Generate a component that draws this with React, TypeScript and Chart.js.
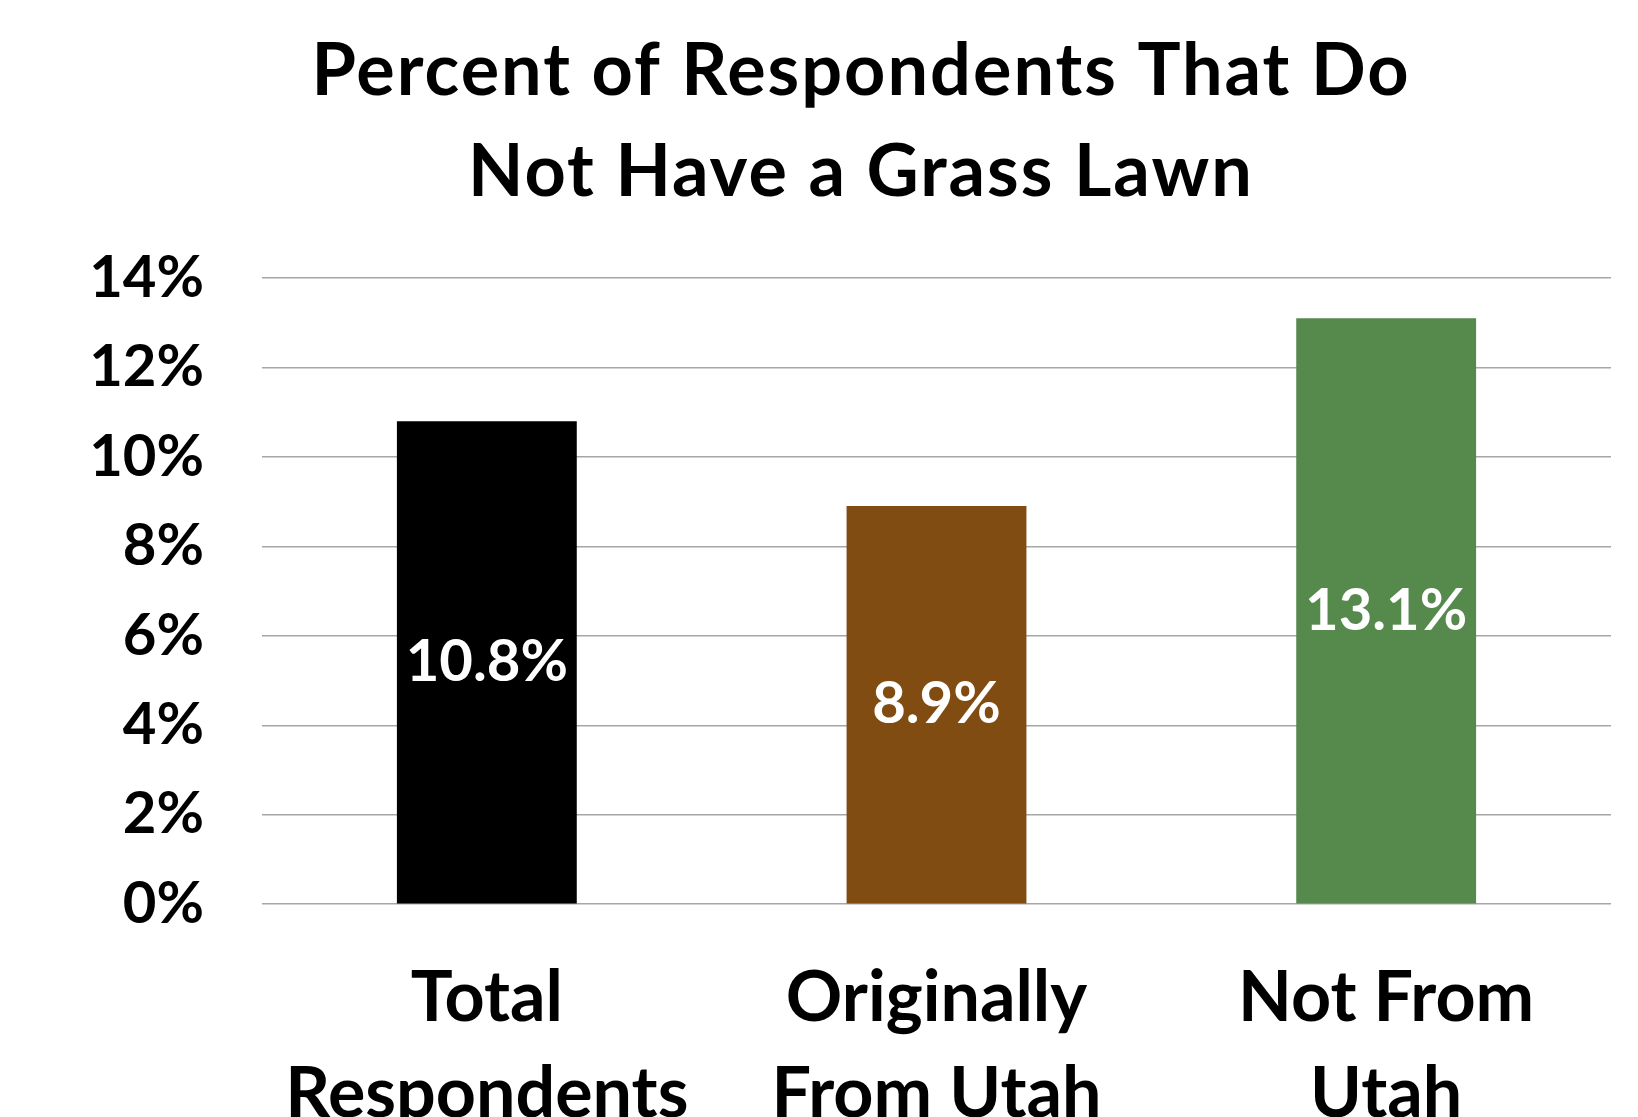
import React, { useEffect, useRef } from "react";
import { Chart, registerables } from "chart.js";

Chart.register(...registerables);

const TITLE_LINES = ["Percent of Respondents That Do", "Not Have a Grass Lawn"];
const CATEGORIES = [
  ["Total", "Respondents"],
  ["Originally", "From Utah"],
  ["Not From", "Utah"],
];
const VALUES = [10.8, 8.9, 13.1];
const BAR_COLORS = ["#000000", "#814C12", "#568A4D"];
const Y_MIN = 0;
const Y_MAX = 14;
const Y_STEP = 2;

const FONT = "Lato, 'Open Sans', sans-serif";

const titlePlugin = {
  id: "customTitle",
  afterDraw(chart: any) {
    const ctx = chart.ctx;
    ctx.save();
    ctx.font = `bold 72px ${FONT}`;
    (ctx as any).letterSpacing = "2px";
    ctx.fillStyle = "#000000";
    ctx.textAlign = "center";
    ctx.textBaseline = "middle";
    const cx = 861;
    TITLE_LINES.forEach((line, i) => {
      ctx.fillText(line, cx, 72 + i * 101);
    });
    ctx.restore();
  },
};

const barLabels = {
  id: "barLabels",
  afterDatasetsDraw(chart: any) {
    const ctx = chart.ctx;
    const meta = chart.getDatasetMeta(0);
    ctx.save();
    ctx.font = `bold 58px ${FONT}`;
    ctx.fillStyle = "#ffffff";
    ctx.textAlign = "center";
    ctx.textBaseline = "middle";
    meta.data.forEach((bar: any, i: number) => {
      const { x, y, base } = bar.getProps(["x", "y", "base"], true);
      ctx.fillText(`${VALUES[i].toFixed(1)}%`, x, (y + base) / 2);
    });
    ctx.restore();
  },
};

export default function App() {
  const canvasRef = useRef<HTMLCanvasElement | null>(null);

  useEffect(() => {
    document.body.style.margin = "0";
    document.body.style.overflow = "hidden";
    const canvas = canvasRef.current;
    if (!canvas) return;
    const chart = new Chart(canvas, {
      type: "bar",
      data: {
        labels: CATEGORIES as any,
        datasets: [
          {
            data: VALUES,
            backgroundColor: BAR_COLORS,
            borderWidth: 0,
            barPercentage: 0.4,
            categoryPercentage: 1,
          },
        ],
      },
      options: {
        animation: false,
        responsive: false,
        devicePixelRatio: 1,
        layout: { padding: { left: 0, right: 27, top: 278, bottom: 0 } },
        plugins: {
          legend: { display: false },
          tooltip: { enabled: false },
          title: { display: false },
        },
        scales: {
          x: {
            grid: { display: false },
            border: { display: false },
            ticks: {
              color: "#000000",
              font: { family: FONT, size: 70, weight: "bold", lineHeight: 1.37 },
              padding: 38,
              maxRotation: 0,
              minRotation: 0,
              autoSkip: false,
            },
          },
          y: {
            min: Y_MIN,
            max: Y_MAX,
            afterFit(scale: any) {
              scale.width = 262;
            },
            grid: { color: "#A6A6A6", lineWidth: 1.5, drawTicks: false },
            border: { display: false },
            ticks: {
              stepSize: Y_STEP,
              color: "#000000",
              font: { family: FONT, size: 58, weight: "bold" },
              padding: 58,
              callback: (v: any) => `${v}%`,
            },
          },
        },
      },
      plugins: [barLabels, titlePlugin],
    });
    return () => chart.destroy();
  }, []);

  return (
    <div style={{ position: "absolute", left: 0, top: 0, width: 1638, height: 1180 }}>
      <canvas ref={canvasRef} width={1638} height={1180} />
    </div>
  );
}
